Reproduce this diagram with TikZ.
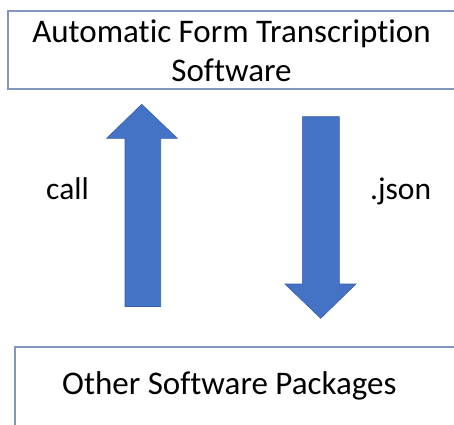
\documentclass[tikz,border=0pt]{standalone}
\usepackage{fontspec}
\setmainfont[Ligatures=NoCommon]{Carlito}
\definecolor{boxline}{RGB}{130,150,190}
\definecolor{arrfill}{RGB}{68,114,196}
\definecolor{arredge}{RGB}{55,95,170}
\begin{document}
\begin{tikzpicture}[x=1pt,y=-1pt,
  boxstyle/.style={draw=boxline,line width=1.1pt,rectangle,inner sep=0pt},
  lbl/.style={inner sep=0pt,font=\fontsize{33}{40}\selectfont},
  side/.style={inner sep=0pt,font=\fontsize{31.5}{38}\selectfont},
  blockarrow/.style={fill=arrfill,draw=arredge,line width=0.6pt,line join=miter}]
\useasboundingbox (0,0) rectangle (454,424);
\clip (0,0) rectangle (454,424);
\fill[white] (0,0) rectangle (454,424);
% boxes
\node[boxstyle,minimum width=452pt,minimum height=78pt] (top) at (234,50) {};
\node[boxstyle,minimum width=460pt,minimum height=100pt] (bot) at (245,397) {};
% texts
\node[lbl,anchor=base] (t1) at (231.5,42) {Automatic Form Transcription};
\node[lbl,anchor=base] (t2) at (231.5,81.5) {Software};
\node[lbl,anchor=base west] (b1) at (62,394.5) {Other Software Packages};
\node[side,anchor=base west] (call) at (46,199) {call};
\node[side,anchor=base west] (json) at (370,199) {.json};
% up arrow
\draw[blockarrow] (125,306.5) -- (125,138.3) -- (106.7,138.3) -- (141.7,104.3)
  -- (177.3,138.3) -- (160.7,138.3) -- (160.7,306.5) -- cycle;
% down arrow
\draw[blockarrow] (302.3,116.7) -- (302.3,284) -- (285,284) -- (320.7,318.3)
  -- (356,284) -- (339.3,284) -- (339.3,116.7) -- cycle;
\end{tikzpicture}
\end{document}
